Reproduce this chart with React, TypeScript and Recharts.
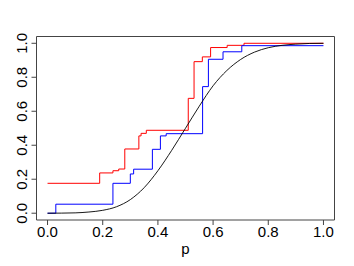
import React from 'react';
import { LineChart, Line, XAxis, YAxis, ReferenceArea } from 'recharts';

const tickValues = [0, 0.2, 0.4, 0.6, 0.8, 1.0];

const redP = [0, 0.189, 0.237, 0.258, 0.28, 0.331, 0.339, 0.358, 0.51, 0.531, 0.561, 0.591, 0.651, 0.712, 1.0];
const redY = [0.176, 0.237, 0.25, 0.26, 0.378, 0.455, 0.47, 0.488, 0.676, 0.892, 0.92, 0.975, 0.988, 1.0, 1.0];

const blueP = [0, 0.03, 0.237, 0.3, 0.312, 0.38, 0.409, 0.43, 0.562, 0.583, 0.636, 0.704, 1.0];
const blueY = [0, 0.053, 0.176, 0.231, 0.259, 0.376, 0.455, 0.468, 0.745, 0.906, 0.95, 0.986, 0.986];

const blackP = [0, 0.05, 0.1, 0.15, 0.2, 0.25, 0.3, 0.35, 0.4, 0.45, 0.5, 0.55, 0.6, 0.65, 0.7, 0.75, 0.8, 0.85, 0.9, 0.95, 1.0];
const blackY = [0, 0.0005, 0.002, 0.007, 0.017, 0.038, 0.08, 0.15, 0.25, 0.37, 0.5, 0.63, 0.75, 0.84, 0.905, 0.948, 0.974, 0.988, 0.995, 0.999, 1.0];

const redData = redP.map((p, i) => ({ p, v: redY[i] }));
const blueData = blueP.map((p, i) => ({ p, v: blueY[i] }));
const blackData = blackP.map((p, i) => ({ p, v: blackY[i] }));

const FONT = '"Liberation Sans", Arial, Helvetica, sans-serif';

const XTick = (props: any) => {
  const { x, y, payload } = props;
  return (
    <text x={x} y={y} dy={12} textAnchor="middle" fontSize={15} fontFamily={FONT} fill="#000">
      {Number(payload.value).toFixed(1)}
    </text>
  );
};

const YTick = (props: any) => {
  const { x, y, payload } = props;
  const bx = x - 4.5;
  return (
    <text x={bx} y={y} transform={`rotate(-90, ${bx}, ${y})`} textAnchor="middle" fontSize={15} fontFamily={FONT} fill="#000">
      {Number(payload.value).toFixed(1)}
    </text>
  );
};

const XLabel = (props: any) => {
  const vb = props.viewBox || { x: 36.5, y: 220, width: 298, height: 46 };
  return (
    <text x={vb.x + vb.width / 2} y={vb.y + 34} textAnchor="middle" fontSize={15} fontFamily={FONT} fill="#000">
      p
    </text>
  );
};

export default function App() {
  return (
    <div style={{ position: 'absolute', left: 0, top: 0 }}>
      <LineChart width={354} height={266} margin={{ top: 36.5, right: 19.5, left: 0, bottom: 0 }}>
        <XAxis
          type="number"
          dataKey="p"
          domain={[-0.04, 1.04]}
          ticks={tickValues}
          allowDataOverflow
          height={46}
          axisLine={false}
          tickSize={5}
          tickMargin={0}
          tickLine={{ stroke: '#444' }}
          tick={<XTick />}
          label={<XLabel />}
        />
        <YAxis
          type="number"
          dataKey="v"
          domain={[-0.04, 1.04]}
          ticks={tickValues}
          allowDataOverflow
          width={36.5}
          axisLine={false}
          tickSize={5}
          tickMargin={0}
          tickLine={{ stroke: '#444' }}
          tick={<YTick />}
        />
        <ReferenceArea x1={-0.04} x2={1.04} y1={-0.04} y2={1.04} fill="none" fillOpacity={0} stroke="#444" strokeWidth={1} />
        <Line data={redData} dataKey="v" type="stepAfter" stroke="#ff0000" strokeWidth={1} dot={false} isAnimationActive={false} />
        <Line data={blueData} dataKey="v" type="stepAfter" stroke="#0000ff" strokeWidth={1} dot={false} isAnimationActive={false} />
        <Line data={blackData} dataKey="v" type="monotone" stroke="#000000" strokeWidth={0.9} dot={false} isAnimationActive={false} />
      </LineChart>
    </div>
  );
}
